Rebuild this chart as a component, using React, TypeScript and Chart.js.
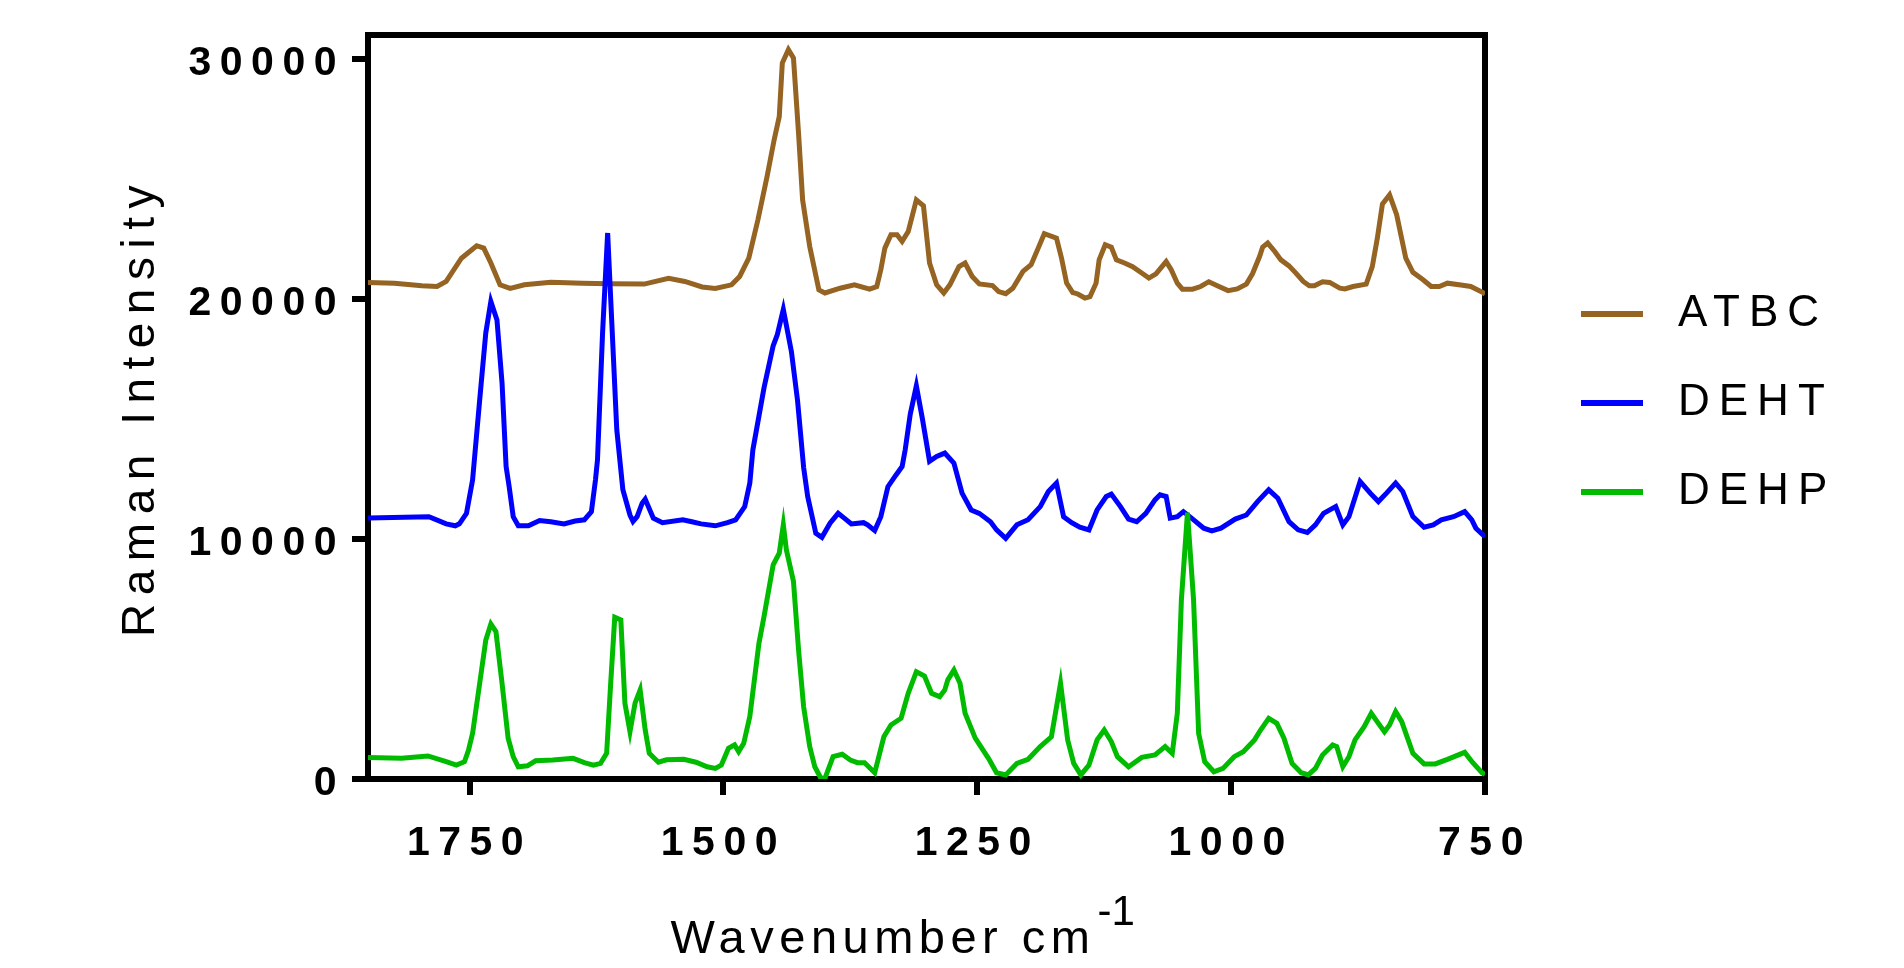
import React, { useEffect, useRef } from 'react';
import { Chart, registerables } from 'chart.js';

Chart.register(...registerables);

// ---------------- data ----------------
const atbcX = [1850,1824,1797,1782,1773,1758,1743,1736,1729,1720,
  1710,1696,1670,1639,1613,1578,1554,1538,1521,1508,
  1492,1484,1475,1466,1457,1450,1445,1442,1436,1431,
  1426,1422,1415,1406,1400,1385,1371,1356,1349,1345,
  1341,1335,1329,1324,1318,1310,1303,1297,1290,1283,
  1277,1268,1262,1255,1248,1235,1229,1222,1215,1205,
  1197,1190,1184,1172,1167,1162,1156,1151,1144,1139,
  1133,1130,1124,1118,1113,1105,1097,1087,1081,1074,
  1064,1059,1053,1048,1038,1030,1022,1012,1003,994,
  985,979,972,969,964,957,951,943,936,929,
  923,918,910,903,893,888,880,867,861,856,
  851,844,837,828,821,811,803,795,787,772,
  764,752,750];
const atbcY = [20690,20660,20550,20520,20730,21700,22220,22120,21500,20590,
  20440,20590,20700,20660,20640,20620,20860,20730,20500,20440,
  20590,20940,21700,23300,25100,26640,27600,29830,30390,30040,
  26900,24130,22190,20380,20250,20450,20590,20410,20520,21220,
  22120,22680,22680,22400,22810,24130,23880,21500,20590,20250,
  20590,21350,21500,20940,20630,20560,20310,20220,20450,21150,
  21430,22120,22720,22540,21700,20660,20270,20210,20040,20100,
  20660,21630,22260,22160,21630,21500,21350,21050,20870,21050,
  21560,21220,20660,20410,20410,20520,20720,20520,20350,20420,
  20620,21050,21770,22160,22330,21980,21630,21380,21070,20730,
  20550,20550,20720,20690,20450,20420,20520,20620,21350,22540,
  23960,24340,23510,21700,21110,20800,20520,20520,20660,20570,
  20520,20270,20200];

const dehtX = [1850,1790,1773,1764,1760,1753,1747,1740,1734,1729,
  1723,1718,1714,1711,1707,1702,1692,1681,1670,1657,
  1646,1637,1630,1626,1624,1619,1614,1605,1599,1592,
  1589,1585,1580,1577,1569,1560,1540,1531,1522,1508,
  1496,1488,1479,1474,1471,1460,1451,1447,1441,1433,
  1427,1421,1417,1409,1403,1395,1387,1381,1374,1362,
  1358,1351,1345,1338,1330,1324,1321,1316,1310,1304,
  1297,1290,1282,1273,1265,1256,1248,1237,1231,1222,
  1211,1200,1188,1180,1172,1165,1157,1149,1140,1132,
  1123,1118,1109,1101,1093,1084,1075,1070,1064,1060,
  1053,1047,1039,1027,1019,1010,996,985,974,963,
  954,943,934,925,917,909,897,890,884,873,
  863,855,847,838,831,821,810,801,793,781,
  770,763,759,752,750];
const dehtY = [10870,10930,10630,10550,10630,11070,12460,15800,18590,19900,
  19130,16500,13020,12180,10930,10550,10550,10770,10720,10630,
  10750,10800,11140,12460,13300,18590,22750,14550,12050,11000,
  10730,10930,11490,11660,10870,10680,10800,10720,10630,10550,
  10680,10800,11350,12330,13710,16300,18050,18500,19570,17800,
  15770,12980,11770,10240,10070,10660,11070,10870,10630,10680,
  10590,10350,10930,12180,12670,13020,13710,15200,16380,15000,
  13240,13440,13580,13160,11910,11210,11070,10720,10380,10030,
  10590,10800,11350,11980,12330,10930,10680,10490,10380,11210,
  11770,11870,11350,10830,10720,11070,11630,11840,11770,10870,
  10930,11140,10870,10450,10340,10450,10830,11000,11560,12050,
  11700,10720,10380,10270,10590,11070,11350,10590,10930,12400,
  11910,11560,11910,12330,11980,10930,10490,10590,10800,10930,
  11140,10800,10450,10170,10100];

const dehpX = [1850,1817,1791,1773,1763,1755,1751,1747,1740,1734,
  1729,1724,1718,1712,1707,1702,1693,1685,1668,1648,
  1637,1628,1621,1615,1611,1607,1601,1597,1592,1587,
  1582,1577,1573,1564,1556,1539,1527,1516,1508,1502,
  1495,1489,1485,1480,1474,1465,1460,1451,1445,1441,
  1438,1431,1426,1421,1415,1410,1404,1400,1392,1383,
  1375,1368,1361,1351,1342,1335,1325,1318,1310,1302,
  1295,1287,1282,1279,1273,1267,1262,1252,1239,1231,
  1222,1211,1200,1188,1177,1168,1161,1155,1148,1140,
  1132,1125,1118,1112,1101,1088,1075,1065,1058,1053,
  1049,1043,1037,1032,1026,1017,1008,997,988,977,
  971,963,955,948,940,931,924,917,910,900,
  896,890,884,878,869,862,855,849,844,838,
  832,821,810,799,787,770,762,753,750];
const dehpY = [900,860,960,720,580,720,1210,1900,3990,5790,
  6460,6140,3990,1700,930,510,550,760,790,860,
  680,580,650,1070,3990,6740,6630,3160,1970,3160,
  3710,2040,1070,700,800,820,700,510,440,580,
  1280,1420,1140,1490,2600,5660,6770,8920,9410,10590,
  9550,8230,5380,3010,1350,510,30,30,930,1030,
  790,680,680,260,1760,2250,2530,3570,4470,4290,
  3570,3430,3710,4130,4540,3990,2740,1700,860,260,
  170,650,820,1350,1760,3990,1630,650,170,580,
  1630,2040,1560,930,510,900,1000,1350,1070,2740,
  7460,11100,7460,1900,720,300,440,930,1140,1630,
  2040,2530,2320,1700,650,260,170,440,1000,1420,
  1350,510,930,1630,2180,2740,2320,1970,2250,2810,
  2390,1070,630,630,820,1110,680,260,200];

const seriesNames = ['ATBC', 'DEHT', 'DEHP'];
const seriesColors = ['#956322', '#0000FF', '#00BB00'];
const xMin = 750;
const xMax = 1850;
const xTickValues = [1750, 1500, 1250, 1000, 750];
const yMin = 0;
const yMax = 31000;
const yTickValues = [0, 10000, 20000, 30000];
const yTitle = 'Raman Intensity';
const xTitle = 'Wavenumber cm';
const xTitleSup = '-1';

// ---------------- styling ----------------
const FONT = "'Liberation Sans', Arial, Helvetica, sans-serif";
const TICK_SIZE = 41;
const LEGEND_SIZE = 44;
const YTITLE_SIZE = 46;
const XTITLE_SIZE = 47;
const SUP_SIZE = 42;

function spacingFor(font: string): string {
  const m = /(\d+(?:\.\d+)?)px/.exec(font || '');
  const s = m ? Math.round(parseFloat(m[1])) : 0;
  if (s === TICK_SIZE) return '8.5px';
  if (s === LEGEND_SIZE) return '9px';
  if (s === YTITLE_SIZE) return '8.5px';
  if (s === XTITLE_SIZE) return '5.5px';
  return '0px';
}

const W = 1904;
const H = 968;
const AREA = { left: 368, right: 1485, top: 35, bottom: 779 };
const LEGEND_LEFT = 1536;
const LEGEND_PAD = 45;
const LEGEND_BOX = 75;
const LEGEND_LINE = 62;
const LEGEND_SHIFT = -4;

function toPoints(xs: number[], ys: number[]) {
  return xs.map((x, i) => ({ x, y: ys[i] }));
}

export default function App() {
  const canvasRef = useRef<HTMLCanvasElement | null>(null);

  useEffect(() => {
    const canvas = canvasRef.current;
    if (!canvas) return;
    const ctx = canvas.getContext('2d') as any;
    const proto: any = CanvasRenderingContext2D.prototype;
    ctx.fillText = function (text: string, x: number, y: number, maxWidth?: number) {
      const prev = this.letterSpacing;
      this.letterSpacing = spacingFor(this.font);
      if (maxWidth === undefined || maxWidth === null) proto.fillText.call(this, text, x, y);
      else proto.fillText.call(this, text, x, y, maxWidth);
      this.letterSpacing = prev;
    };
    ctx.measureText = function (text: string) {
      const prev = this.letterSpacing;
      this.letterSpacing = spacingFor(this.font);
      const m = proto.measureText.call(this, text);
      this.letterSpacing = prev;
      return m;
    };

    Chart.defaults.font.family = FONT;
    Chart.defaults.color = '#000';

    const xs = [atbcX, dehtX, dehpX];
    const ys = [atbcY, dehtY, dehpY];
    const datasets = seriesNames.map((name, i) => ({
      label: name,
      data: toPoints(xs[i], ys[i]),
      borderColor: seriesColors[i],
      backgroundColor: seriesColors[i],
      borderWidth: 5,
      pointRadius: 0,
      pointHoverRadius: 0,
      tension: 0,
      fill: false,
      order: 3 - i,
      xAxisID: 'x',
      yAxisID: 'y',
    }));

    const tickFont = { size: TICK_SIZE, weight: 'bold' as const, family: FONT };
    const axisGrid = {
      display: true,
      drawOnChartArea: false,
      drawTicks: true,
      tickLength: 16,
      tickWidth: 6,
      tickColor: '#000',
      lineWidth: 6,
      color: '#000',
    };
    const frameGrid = {
      display: true,
      drawOnChartArea: false,
      drawTicks: false,
      lineWidth: 6,
      color: '#000',
    };
    const border = { display: true, width: 6, color: '#000' };

    const layoutPlugin = {
      id: 'layoutTweaks',
      beforeLayout(chart: any) {
        const lg = chart.legend;
        if (lg && !lg.__fixedWidth) {
          const orig = lg.fit.bind(lg);
          lg.fit = () => {
            orig();
            lg.width = W - LEGEND_LEFT;
          };
          lg.__fixedWidth = true;
        }
      },
      afterLayout(chart: any) {
        const lg = chart.legend;
        if (lg) {
          lg.top += LEGEND_SHIFT;
          lg.bottom += LEGEND_SHIFT;
        }
      },
      beforeDraw(chart: any) {
        const lg = chart.legend;
        if (!lg || !lg.legendItems) return;
        const x0 = lg.left + LEGEND_PAD;
        lg.legendItems.forEach((item: any) => {
          const color = seriesColors[item.datasetIndex];
          const g = chart.ctx.createLinearGradient(x0, 0, x0 + LEGEND_BOX, 0);
          const stop = LEGEND_LINE / LEGEND_BOX;
          g.addColorStop(0, color);
          g.addColorStop(stop, color);
          g.addColorStop(stop, 'rgba(255,255,255,0)');
          g.addColorStop(1, 'rgba(255,255,255,0)');
          item.fillStyle = g;
        });
      },
      afterDraw(chart: any) {
        const c = chart.ctx;
        const area = chart.chartArea;
        c.save();
        c.fillStyle = '#000';
        c.textAlign = 'left';
        c.textBaseline = 'alphabetic';
        c.font = `${XTITLE_SIZE}px ${FONT}`;
        const x0 = (area.left + area.right) / 2 - 256;
        const y0 = area.bottom + 174;
        c.fillText(xTitle, x0, y0);
        const w = c.measureText(xTitle).width;
        c.font = `${SUP_SIZE}px ${FONT}`;
        c.fillText(xTitleSup, x0 + w + 2, y0 - 28);
        c.restore();
      },
    };

    const chart = new Chart(canvas, {
      type: 'line',
      data: { datasets: datasets as any },
      options: {
        responsive: false,
        animation: false,
        devicePixelRatio: 1,
        events: [],
        layout: { padding: 0 },
        plugins: {
          tooltip: { enabled: false },
          title: { display: false },
          legend: {
            display: true,
            position: 'right',
            align: 'center',
            fullSize: false,
            labels: {
              boxWidth: LEGEND_BOX,
              boxHeight: 6,
              padding: LEGEND_PAD,
              color: '#000',
              font: { size: LEGEND_SIZE, family: FONT },
              sort: (a: any, b: any) => a.datasetIndex - b.datasetIndex,
              generateLabels: (ch: any) =>
                (Chart.defaults.plugins.legend.labels.generateLabels as any)(ch).map((l: any) => ({
                  ...l,
                  lineWidth: 0,
                })),
            },
          },
        },
        scales: {
          x: {
            type: 'linear',
            position: 'bottom',
            min: xMin,
            max: xMax,
            reverse: true,
            afterBuildTicks: (s: any) => {
              s.ticks = xTickValues.map((v) => ({ value: v }));
            },
            ticks: {
              autoSkip: false,
              maxRotation: 0,
              minRotation: 0,
              padding: 24,
              color: '#000',
              font: tickFont,
              callback: (v: any) => String(v),
            },
            grid: axisGrid,
            border,
            afterFit: (s: any) => {
              s.height = H - AREA.bottom;
            },
          },
          x2: {
            type: 'linear',
            position: 'top',
            min: xMin,
            max: xMax,
            reverse: true,
            ticks: { display: false },
            grid: frameGrid,
            border,
            afterFit: (s: any) => {
              s.height = AREA.top;
            },
          },
          y: {
            type: 'linear',
            position: 'left',
            min: yMin,
            max: yMax,
            afterBuildTicks: (s: any) => {
              s.ticks = yTickValues.map((v) => ({ value: v }));
            },
            ticks: {
              autoSkip: false,
              padding: 7,
              labelOffset: 5,
              color: '#000',
              font: tickFont,
              callback: (v: any) => String(v),
            },
            title: {
              display: true,
              text: yTitle,
              color: '#000',
              font: { size: YTITLE_SIZE, family: FONT },
              padding: { top: 114, bottom: 0 },
            },
            grid: axisGrid,
            border,
            afterFit: (s: any) => {
              s.width = AREA.left;
            },
          },
          y2: {
            type: 'linear',
            position: 'right',
            min: yMin,
            max: yMax,
            ticks: { display: false },
            grid: frameGrid,
            border,
            afterFit: (s: any) => {
              s.width = LEGEND_LEFT - AREA.right;
            },
          },
        },
      } as any,
      plugins: [layoutPlugin],
    });

    return () => {
      chart.destroy();
      delete ctx.fillText;
      delete ctx.measureText;
    };
  }, []);

  return (
    <div style={{ position: 'fixed', left: 0, top: 0, width: W, height: H, background: '#fff' }}>
      <canvas ref={canvasRef} width={W} height={H} style={{ display: 'block', width: W, height: H }} />
    </div>
  );
}
